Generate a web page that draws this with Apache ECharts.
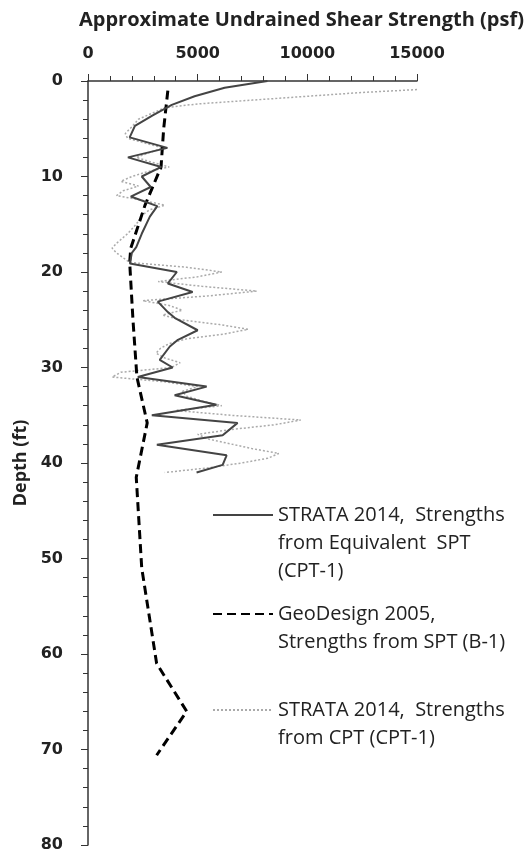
<!DOCTYPE html>
<html lang="en">
<head>
<meta charset="UTF-8">
<title>Undrained Shear Strength vs Depth</title>
<script src="https://cdn.jsdelivr.net/npm/echarts@6/dist/echarts.min.js"></script>
<style>html,body{margin:0;background:#fff;}</style>
</head>
<body>
<div id="chart" style="width:525px;height:859px;"></div>
<script>
// STRATA 2014, strengths from equivalent SPT (CPT-1)
var sptDepth = [0, 0.7, 1.6, 2.5, 3.6, 4.7, 5.9, 7, 8, 9, 10, 11.1, 12.1, 13.1, 14.2, 16, 17.4, 18, 19.1, 20,
    21.2, 22.1, 23.1, 24.2, 24.8, 26.1, 27.1, 27.8, 29.2, 30, 31, 32, 32.9, 33.9, 35, 35.8, 37.1, 38.1, 39.2, 40.2, 41];
var sptValue = [8180, 6230, 4860, 3820, 2950, 2140, 1900, 3620, 1820, 3340, 2450, 2860, 1950, 3160, 2820, 2450, 2200, 2000, 1910, 4050,
    3640, 4770, 3180, 3640, 3950, 5000, 4100, 3730, 3270, 3860, 2270, 5410, 3950, 5860, 2910, 6820, 6140, 3140, 6320, 6140, 4950];

// GeoDesign 2005, strengths from SPT (B-1)
var geoDepth = [1, 5, 9, 13, 17.5, 19, 25, 31, 35.8, 41.5, 51, 61, 66, 70.6];
var geoValue = [3640, 3450, 3330, 2600, 1950, 1900, 2050, 2230, 2700, 2200, 2450, 3130, 4500, 3130];

// STRATA 2014, strengths from CPT (CPT-1)
var cptDepth = [0.9, 1.2, 1.6, 2, 2.4, 2.8, 3.3, 4, 4.8, 5.5, 6, 6.5, 7, 7.5, 8, 8.5, 9, 9.5, 10, 10.5,
    11, 11.5, 12, 12.5, 13, 13.5, 14, 15, 16, 17, 17.5, 18, 18.5, 19, 19.5, 20, 20.5, 21, 21.5, 22,
    22.5, 23, 23.5, 24, 24.5, 25, 25.5, 26, 26.5, 27, 27.5, 28, 28.5, 29, 29.5, 30, 30.5, 31, 31.5, 32,
    32.5, 33, 33.5, 34, 34.5, 35, 35.5, 36, 36.5, 37, 37.5, 38, 38.5, 39, 39.5, 40, 40.5, 41];
var cptValue = [15000, 12500, 10000, 7500, 5000, 3500, 3000, 2300, 2000, 1700, 1800, 2600, 3400, 2800, 2200, 2900, 3700, 2700, 2000, 1500,
    2300, 1600, 1300, 2500, 3500, 2800, 2500, 2200, 1800, 1300, 1100, 1300, 1600, 1900, 4500, 6100, 5000, 3200, 5200, 7700,
    5500, 2500, 3700, 4300, 3400, 4200, 6000, 7300, 6200, 4500, 3700, 3300, 3100, 3500, 4200, 3800, 1500, 1100, 3500, 5000,
    4300, 4500, 5200, 6100, 4000, 6500, 9700, 8500, 6500, 5000, 5500, 6500, 7500, 8700, 8200, 7000, 5500, 3500];

var seriesNames = [
    'STRATA 2014,  Strengths\nfrom Equivalent  SPT\n(CPT-1)',
    'GeoDesign 2005,\nStrengths from SPT (B-1)',
    'STRATA 2014,  Strengths\nfrom CPT (CPT-1)'
];

function pairs(depth, value) {
    return depth.map(function (d, i) { return [value[i], d]; });
}

// legend text is centred on its line icon, so pad with blank lines in front
// to make the first line of text sit level with the icon
function legendAt(name, top) {
    var n = name.split('\n').length;
    var pad = new Array(n).join('\n');
    return {
        orient: 'vertical',
        left: 207,
        top: top,
        itemWidth: 60,
        itemHeight: 14,
        selectedMode: false,
        itemStyle: { color: 'rgba(0,0,0,0)', borderWidth: 0, opacity: 0 },
        formatter: function (s) { return pad + s; },
        textStyle: { fontFamily: 'Open Sans', fontSize: 20, color: '#222', lineHeight: 28 },
        data: [name]
    };
}

var chart = echarts.init(document.getElementById('chart'));
chart.setOption({
    backgroundColor: '#fff',
    animation: false,
    title: {
        text: 'Approximate Undrained Shear Strength (psf)',
        left: 74,
        top: 5,
        textStyle: { fontFamily: 'Open Sans', fontWeight: 'bold', fontSize: 20, color: '#222' }
    },
    legend: [
        legendAt(seriesNames[0], 440),
        legendAt(seriesNames[1], 567),
        legendAt(seriesNames[2], 663)
    ],
    grid: { left: 88, top: 81, width: 329, bottom: 14 },
    xAxis: {
        type: 'value',
        position: 'top',
        min: 0,
        max: 15000,
        interval: 5000,
        axisLine: { show: true, lineStyle: { color: '#333', width: 1.5 } },
        axisTick: { show: true, length: 7, lineStyle: { color: '#333' } },
        minorTick: { show: true, splitNumber: 5, length: 5, lineStyle: { color: '#333' } },
        splitLine: { show: false },
        axisLabel: {
            margin: 19, fontFamily: 'DejaVu Sans', fontWeight: 'bold', fontSize: 16, color: '#222',
            formatter: function (v) { return String(v); }
        }
    },
    yAxis: {
        type: 'value',
        inverse: true,
        min: 0,
        max: 80,
        interval: 10,
        name: 'Depth (ft)',
        nameLocation: 'middle',
        nameGap: 58,
        nameTextStyle: { fontFamily: 'Open Sans', fontWeight: 'bold', fontSize: 18, color: '#222' },
        axisLine: { show: true, lineStyle: { color: '#333', width: 1.5 } },
        axisTick: { show: true, length: 7, lineStyle: { color: '#333' } },
        minorTick: { show: true, splitNumber: 5, length: 5, lineStyle: { color: '#333' } },
        splitLine: { show: false },
        axisLabel: { margin: 25, fontFamily: 'DejaVu Sans', fontWeight: 'bold', fontSize: 16, color: '#222' }
    },
    series: [
        {
            name: seriesNames[0],
            type: 'line',
            data: pairs(sptDepth, sptValue),
            symbol: 'none',
            z: 4,
            lineStyle: { color: '#444', width: 2 },
            itemStyle: { color: '#444' }
        },
        {
            name: seriesNames[1],
            type: 'line',
            data: pairs(geoDepth, geoValue),
            symbol: 'none',
            z: 3,
            lineStyle: { color: '#000', width: 3, type: [9, 5] },
            itemStyle: { color: '#000' }
        },
        {
            name: seriesNames[2],
            type: 'line',
            data: pairs(cptDepth, cptValue),
            symbol: 'none',
            z: 2,
            lineStyle: { color: '#aaa', width: 1.5, type: [2, 2] },
            itemStyle: { color: '#aaa' }
        }
    ]
});
</script>
</body>
</html>
